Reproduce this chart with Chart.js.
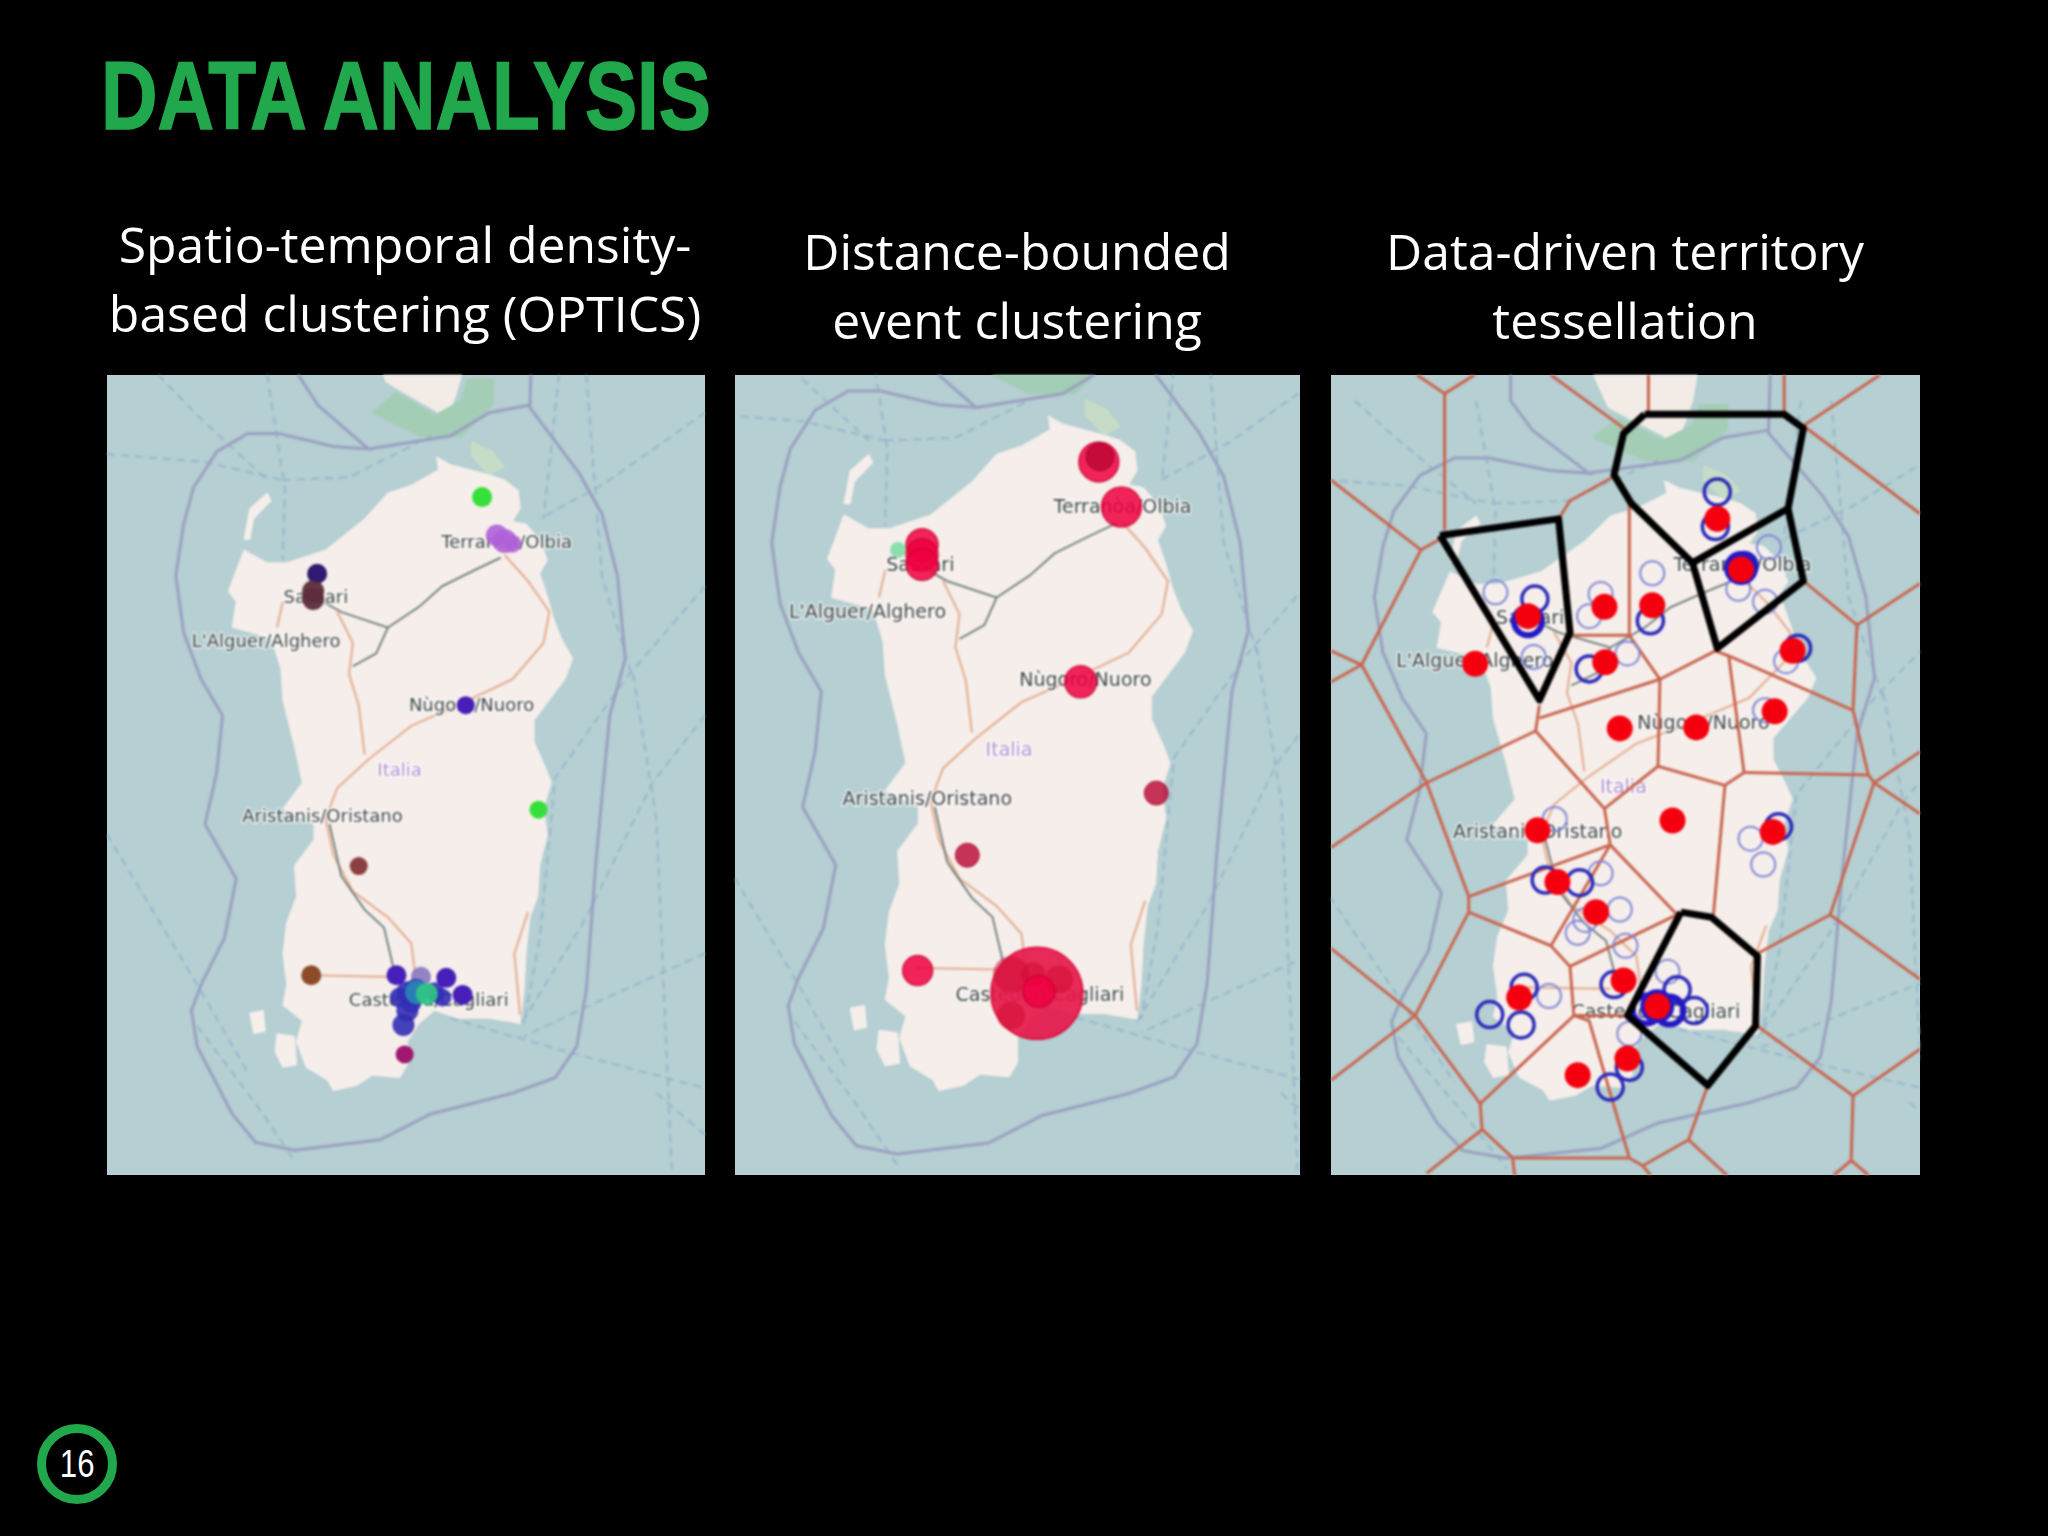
<!DOCTYPE html>
<html><head><meta charset="utf-8">
<script src="https://cdn.jsdelivr.net/npm/chart.js@4"></script>
<style>
html,body{margin:0;padding:0;background:#000;width:2048px;height:1536px;overflow:hidden}
.t{position:absolute;color:#fff;font-family:"Open Sans",sans-serif;font-size:49.9px;line-height:69px;text-align:center;white-space:nowrap;transform:translateX(-50%)}
#h{position:absolute;left:101px;top:41px;color:#21a84c;font:bold 96px/110px "Liberation Sans",sans-serif;white-space:nowrap;transform:scaleX(.815);transform-origin:0 0;-webkit-text-stroke:1.5px #21a84c}
.p{position:absolute;top:375px;height:800px;background:#b5cfd2}
.p canvas{filter:blur(.8px)}
#n{position:absolute;left:37px;top:1424px;width:62px;height:62px;border:9px solid #21a84c;border-radius:50%;color:#fff;font:38px/62px "Liberation Sans",sans-serif;text-align:center}
#n span{display:inline-block;transform:scaleX(.82)}
</style></head><body>
<div id="h">DATA ANALYSIS</div>
<div class="t" style="left:405px;top:210px">Spatio-temporal density-<br>based clustering (OPTICS)</div>
<div class="t" style="left:1017px;top:217px">Distance-bounded<br>event clustering</div>
<div class="t" style="left:1625px;top:217px">Data-driven territory<br>tessellation</div>
<div class="p" style="left:107px;width:598px"><canvas id="c1"></canvas></div>
<div class="p" style="left:735px;width:565px"><canvas id="c2"></canvas></div>
<div class="p" style="left:1331px;width:589px"><canvas id="c3"></canvas></div>
<div id="n"><span>16</span></div>
<script>
// ---- base map (map units) ----
const landMain=[[865,170],[900,185],[950,195],[1000,205],[1040,215],[1075,235],[1080,270],[1060,295],[1095,300],[1130,330],[1150,370],[1130,395],[1150,440],[1165,480],[1185,520],[1215,560],[1195,600],[1165,630],[1115,680],[1115,720],[1145,770],[1160,800],[1140,850],[1150,900],[1130,960],[1125,1020],[1105,1060],[1095,1130],[1090,1200],[1080,1265],[1000,1255],[920,1255],[860,1240],[820,1265],[790,1300],[790,1345],[770,1370],[700,1365],[660,1385],[600,1395],[585,1375],[530,1350],[505,1300],[520,1260],[470,1230],[480,1190],[470,1130],[480,1070],[505,1020],[500,960],[550,910],[550,880],[470,850],[520,800],[500,730],[470,640],[465,580],[440,520],[340,500],[350,450],[330,430],[345,400],[370,350],[430,375],[480,375],[580,350],[680,290],[740,240],[800,225],[870,195],[865,170]];
const landAntioco=[[455,1285],[500,1290],[505,1345],[470,1350],[450,1320],[455,1285]];
const landPietro=[[385,1245],[420,1240],[425,1280],[395,1285],[385,1245]];
const landAsinara=[[370,330],[385,270],[430,240],[440,255],[395,290],[385,330],[370,330]];
const landCorsica=[[690,-60],[945,-60],[930,12],[915,50],[890,100],[860,80],[790,50],[735,25],[690,-60]];
const parkCorsica=[[700,85],[760,45],[860,90],[930,60],[945,20],[1010,20],[1010,70],[930,130],[820,130],[700,85]];
const parkMaddalena=[[955,140],[1010,160],[1040,190],[1000,205],[955,170],[955,140]];
const borderLines=[
 [[510,-60],[510,12],[560,70],[690,155],[600,150],[460,125],[380,125],[300,160],[240,230],[215,300],[195,400],[215,510],[260,600],[315,670],[300,780],[270,880],[350,985],[320,1100],[260,1190],[235,1240],[250,1310],[340,1440],[400,1495],[500,1510],[720,1490],[850,1440],[1060,1400],[1170,1370],[1225,1310],[1250,1200],[1275,950],[1310,670],[1350,560],[1330,400],[1290,280],[1230,200],[1105,75],[1110,-60]],
 [[690,155],[900,130],[1000,85],[1105,70]]
];
const dashLines=[
 [[150,12],[250,90],[430,215]],[[18,165],[270,180],[470,215]],[[430,12],[475,230],[470,370]],
 [[18,900],[250,1190],[380,1360]],[[1555,85],[1300,220],[1130,290]],[[1180,12],[1140,290]],
 [[1555,420],[1350,600],[1170,790],[1130,1100],[1090,1265]],[[1555,670],[1420,800],[1250,1060],[1080,1270]],
 [[1370,590],[1430,870],[1470,1558]],[[1555,1130],[1260,1230],[1090,1290]],[[900,1255],[1200,1320],[1555,1390]],
 [[250,1270],[400,1420],[500,1530]],[[1250,12],[1290,400],[1370,600]],[[1430,1400],[1555,1480]],[[470,215],[640,210],[850,130]]
];
const roadLines=[
 [[1040,360],[1100,410],[1155,470],[1140,530],[1060,600],[920,650],[800,690],[690,755],[610,810],[580,870],[600,940],[650,1010],[740,1060],[800,1110],[810,1170]],
 [[610,470],[650,530],[640,590],[665,650],[680,745]],[[545,1172],[740,1175]],[[1100,1050],[1065,1130],[1080,1250]],[[455,500],[470,450]]
];
const railLines=[
 [[1030,365],[960,390],[880,420],[820,460],[740,500],[710,550],[650,575]],[[740,500],[620,470],[550,440]],
 [[590,880],[620,980],[680,1045],[730,1080],[755,1160]]
];
const placeNames=["Terranòa/Olbia","Sassari","L'Alguer/Alghero","Nùgoro/Nuoro","Italia","Aristanis/Oristano","Casteddu/Cagliari"];
const placeSpots=[[1045,338],[555,443],[427,528],[955,652],[770,778],[572,867],[845,1223]];

// ---- panel 1: OPTICS clusters [x,y,r] ----
const clusterGreen=[[982,248,10],[1127,852,9]];
const clusterOrchid=[[1020,322,11],[1040,333,12],[1060,338,9]];
const clusterNavy=[[558,396,10]];
const clusterMaroon=[[548,430,11],[548,445,11]];
const clusterIndigo=[[940,650,9],[762,1172,10],[890,1177,10],[932,1210,10]];
const clusterUmber=[[665,961,9]];
const clusterRust=[[543,1172,10]];
const clusterBlue=[[790,1205,11],[812,1200,11],[790,1240,11],[780,1268,11],[860,1205,10],[800,1225,10],[770,1215,10],[880,1215,9]];
const clusterHaze=[[825,1175,10]];
const clusterTeal=[[815,1205,12]];
const clusterMint=[[840,1208,11]];
const clusterPlum=[[783,1325,9]];

// ---- panel 2: event clusters [x,y,r] ----
const eventLarge=[[830,1207,46]];
const eventHalo=[[455,350,8]];
const eventInner=[[760,1170,18],[820,1170,12],[890,1180,14],[760,1250,14]];
const eventDark=[[1000,170,14],[1152,820,12],[642,940,12]];
const eventBright=[[997,180,20],[1058,267,20],[520,340,16],[520,360,16],[520,378,16],[948,605,16],[508,1163,15],[835,1203,16]];

// ---- panel 3: tessellation ----
const seedPoints=[[530,478],[392,570],[730,460],[855,457],[732,567],[1025,290],[1087,388],[1222,545],[1175,662],[770,695],[970,693],[908,873],[555,892],[1170,895],[607,992],[708,1050],[780,1182],[868,1232],[507,1215],[790,1333],[660,1365]];
const ringsHeavy=[[530,488],[868,1232],[840,1238],[900,1240],[1087,385]];
const ringsDark=[[548,445],[1025,238],[1020,305],[850,487],[690,580],[1235,540],[1185,885],[575,988],[665,993],[520,1195],[755,1190],[920,1200],[965,1240],[430,1248],[512,1268],[795,1350],[745,1388],[1095,380]];
const ringsLight=[[445,432],[855,395],[720,435],[690,478],[790,550],[545,557],[1160,345],[1080,425],[1150,450],[1205,565],[1150,660],[600,870],[1112,908],[1145,958],[720,975],[770,1045],[680,1065],[660,1090],[785,1115],[895,1165],[585,1212],[795,1285]];
const cellEdges=[
 [[240,12],[312,48],[390,12]],[[312,48],[312,310]],[[15,215],[250,350],[310,325]],[[250,350],[95,572],[15,605]],[[15,545],[95,572]],
 [[95,572],[265,800],[15,925]],[[265,800],[550,700],[560,650]],[[265,800],[375,1020],[375,1050],[235,1250],[15,1375]],
 [[15,1120],[235,1250],[405,1420],[410,1470],[265,1555]],[[375,1020],[745,920]],[[375,1050],[590,1115],[640,1155],[650,1250],[405,1420]],
 [[590,1115],[745,920]],[[640,1155],[920,1055]],[[745,920],[730,850],[550,700]],[[730,850],[870,768],[1045,805],[1015,1055]],
 [[745,920],[920,1055]],[[870,768],[875,600],[560,675]],[[875,600],[795,515],[640,515]],[[795,515],[795,260]],[[750,210],[640,255],[610,290]],
 [[875,600],[1020,545],[1055,555],[1095,780],[1045,805]],[[1095,780],[1420,785],[1380,660],[1390,495],[1250,410]],[[1055,555],[1380,660]],
 [[1390,495],[1555,415]],[[1420,785],[1435,800],[1555,740]],[[1435,800],[1555,860]],[[1435,800],[1320,1055],[1130,1130]],[[1320,1055],[1555,1180]],
 [[1130,1270],[1380,1405],[1555,1315]],[[1380,1405],[1375,1530],[1420,1558]],[[1375,1530],[1330,1558]],
 [[1000,1385],[950,1490],[830,1540],[795,1525],[490,1525],[410,1470]],[[950,1490],[1050,1558]],[[795,1525],[745,1400],[690,1260],[650,1250]],
 [[490,1525],[495,1558]],[[830,1540],[850,1558]],[[1250,110],[1555,280]],[[1250,110],[1450,12]],[[845,12],[845,85]],[[1200,12],[1200,85]],[[590,12],[790,120]],[[650,1250],[790,1250]]
];
const selectedCells=[
 [[300,322],[610,290],[640,510],[560,640],[300,322]],
 [[835,88],[1200,88],[1250,115],[1210,270],[1250,410],[1025,540],[960,375],[800,260],[755,205],[780,125],[835,88]],
 [[960,375],[1210,270]],
 [[930,1050],[1010,1060],[1130,1135],[1125,1270],[1000,1385],[790,1250],[930,1050]]
];

const xy=a=>a.map(p=>({x:p[0],y:p[1]}));
const xyr=(a,r)=>a.map(p=>({x:p[0],y:p[1],r:r===undefined?p[2]:r}));

function mapLayers(){
 const d=[];
 const poly=(pts,col)=>d.push({type:'scatter',showLine:true,data:xy(pts),fill:'shape',backgroundColor:col,borderColor:col,borderWidth:1,pointRadius:0,xAxisID:'x',yAxisID:'y'});
 const line=(pts,col,w,dash)=>d.push({type:'scatter',showLine:true,data:xy(pts),fill:false,borderColor:col,borderWidth:w,borderDash:dash||[],pointRadius:0,xAxisID:'x',yAxisID:'y'});
 poly(landCorsica,'#f3ece6');poly(parkCorsica,'#a3cdb4');
 dashLines.forEach(l=>line(l,'#8fb3cc',1.6,[8,6]));
 borderLines.forEach(l=>line(l,'#9aa0c0',3));
 [landMain,landAntioco,landPietro,landAsinara].forEach(l=>poly(l,'#f5eeea'));
 poly(parkMaddalena,'#c6dcc6');
 roadLines.forEach(l=>line(l,'#e6b094',2.2));
 railLines.forEach(l=>line(l,'#6a7a78',1.8));
 return d;
}
const bubbles=(a,bg,bc,bw)=>({type:'bubble',data:a,backgroundColor:bg,borderColor:bc||bg,borderWidth:bw===undefined?0:bw,xAxisID:'mx',yAxisID:'my'});
const path=(pts,col,w)=>({type:'scatter',showLine:true,data:xy(pts),fill:false,borderColor:col,borderWidth:w,pointRadius:0,borderJoinStyle:'round',xAxisID:'mx',yAxisID:'my'});

const labelsPlugin={id:'mapLabels',
 afterDatasetDraw(chart,args,opts){
  if(args.index!==opts.after)return;
  const c=chart.ctx,sx=chart.scales.x,sy=chart.scales.y;
  c.save();c.textAlign='center';c.textBaseline='middle';c.font=opts.size+'px "DejaVu Sans"';c.lineJoin='round';
  placeNames.forEach((n,i)=>{
   const px=sx.getPixelForValue(placeSpots[i][0]),py=sy.getPixelForValue(placeSpots[i][1]);
   c.lineWidth=3;c.strokeStyle='rgba(255,255,255,.75)';c.strokeText(n,px,py);
   c.fillStyle=n==='Italia'?'#b08fd0':'#3c4444';c.fillText(n,px,py);
  });
  c.restore();
 }};

function panel(id,view,markView,marks,size){
 const base=mapLayers(),all=base.concat(marks);
 all.forEach((d,i)=>d.order=all.length-i);
 const lin=(axis,a,rev)=>({type:'linear',axis,display:false,min:a[0],max:a[1],reverse:!!rev});
 new Chart(document.getElementById(id),{type:'scatter',data:{datasets:all},plugins:[labelsPlugin],options:{
  responsive:true,maintainAspectRatio:false,animation:false,layout:{padding:0,autoPadding:false},
  plugins:{legend:{display:false},tooltip:{enabled:false},mapLabels:{after:base.length-1,size}},
  scales:{x:lin('x',[view[0],view[1]]),y:lin('y',[view[2],view[3]],true),mx:lin('x',[markView[0],markView[1]]),my:lin('y',[markView[2],markView[3]],true)}
 }});
}
panel('c1',[18,1555,12,1558],[18,1555,12,1558],[
 bubbles(xyr(clusterHaze),'rgba(128,112,192,.85)'),bubbles(xyr(clusterBlue),'rgba(50,45,180,.9)'),
 bubbles(xyr(clusterGreen),'#35e03a'),bubbles(xyr(clusterOrchid),'rgba(176,96,216,.9)'),bubbles(xyr(clusterNavy),'#2e1a70'),
 bubbles(xyr(clusterMaroon),'rgba(92,44,60,.95)'),bubbles(xyr(clusterIndigo),'#461fb8'),bubbles(xyr(clusterUmber),'#8a4040'),
 bubbles(xyr(clusterRust),'#8c4a28'),bubbles(xyr(clusterPlum),'#a01870'),
 bubbles(xyr(clusterTeal),'rgba(40,140,180,.85)'),bubbles(xyr(clusterMint),'rgba(48,200,130,.9)')
],18);
panel('c2',[106,1475,96,1548],[15,1540,12,1558],[
 bubbles(xyr(eventHalo),'rgba(120,220,160,.85)'),
 bubbles(xyr(eventLarge),'rgba(230,25,75,.92)','rgba(215,0,50,.9)',1.5),
 bubbles(xyr(eventInner),'rgba(205,10,45,.5)'),
 bubbles(xyr(eventBright),'rgba(240,0,65,.85)','rgba(200,0,50,.8)',1.5),
 bubbles(xyr(eventDark),'rgba(185,5,50,.8)','rgba(170,0,40,.8)',1)
],19);
panel('c3',[95,1455,-39,1543],[15,1555,12,1558],[
 ...cellEdges.map(l=>path(l,'#c9654f',3)),
 bubbles(xyr(ringsLight,12),'rgba(0,0,0,0)','#7f86d8',2),
 bubbles(xyr(ringsDark,13),'rgba(0,0,0,0)','#2a2ab8',3.5),
 bubbles(xyr(ringsHeavy,14),'rgba(0,0,0,0)','#2418c4',6),
 bubbles(xyr(seedPoints,13),'#f5000f'),
 ...selectedCells.map(l=>path(l,'#000',7))
],19);
</script>
</body></html>
